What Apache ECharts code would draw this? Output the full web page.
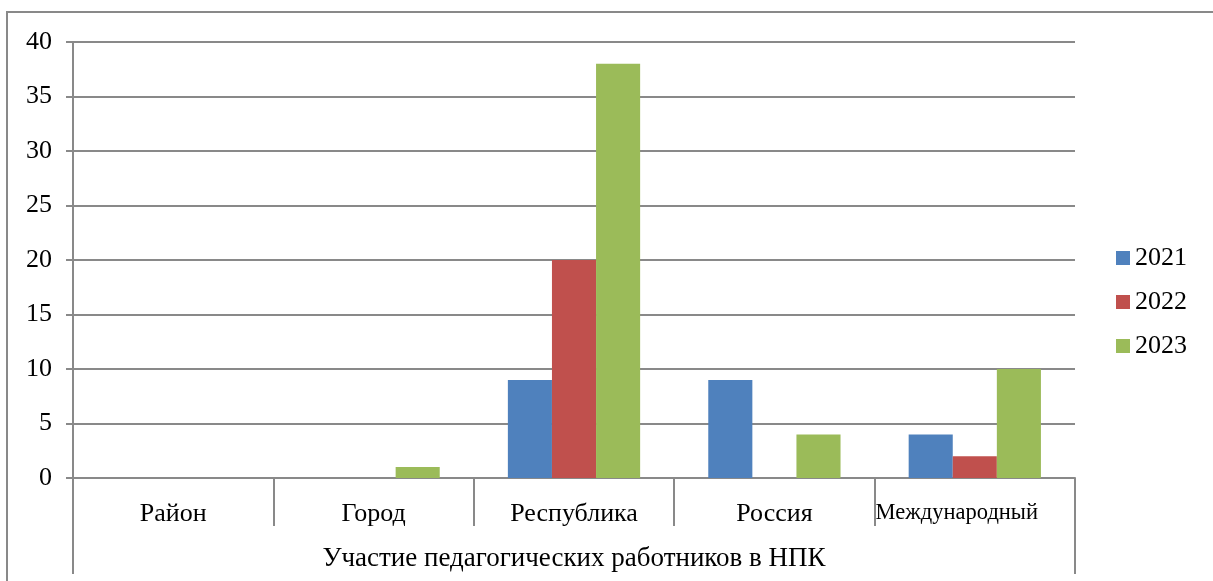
<!DOCTYPE html>
<html>
<head>
<meta charset="utf-8">
<script src="https://cdn.jsdelivr.net/npm/echarts@6/dist/echarts.min.js"></script>
<style>
    html, body { margin: 0; padding: 0; background: #fff; }
    #echartDiv { width: 1213px; height: 581px; }
</style>
</head>
<body>
<div id="echartDiv"></div>
<script>
// данные диаграммы
const categories = ['Район', 'Город', 'Республика', 'Россия', 'Международный'];
const groupLabel = ['Участие педагогических работников в НПК'];
const years = ['2021', '2022', '2023'];
const values2021 = [0, 0, 9, 9, 4];
const values2022 = [0, 0, 20, 0, 2];
const values2023 = [0, 1, 38, 4, 10];
const colors = ['#4F81BD', '#C0504D', '#9BBB59'];

const font = 'Liberation Serif';
const lineColor = '#898989';

const myChart = echarts.init(document.getElementById('echartDiv'));

// последняя подпись в оригинале сжата, чтобы поместиться
const categoryData = categories.map((name, i) => i === categories.length - 1
    ? { value: name, textStyle: { fontSize: 22.5, padding: [1, 36, 0, 0] } }
    : name);

let option = {
    animation: false,
    textStyle: { fontFamily: font },
    graphic: [{
        type: 'rect',
        shape: { x: 7, y: 12, width: 1400, height: 800 },
        style: { fill: 'none', stroke: lineColor, lineWidth: 2 }
    }],
    legend: {
        orient: 'vertical',
        left: 1111,
        top: 240,
        padding: 5,
        itemWidth: 14,
        itemHeight: 14,
        itemGap: 18,
        icon: 'rect',
        data: years,
        textStyle: { fontFamily: font, fontSize: 26, color: '#000' }
    },
    grid: {
        left: 73,
        right: 138,
        top: 42,
        bottom: 103
    },
    xAxis: [
        {
            type: 'category',
            data: categoryData,
            position: 'bottom',
            axisLine: { show: true, lineStyle: { color: lineColor, width: 2 } },
            axisTick: { show: true, interval: 0, length: 48, lineStyle: { color: lineColor, width: 2 } },
            axisLabel: { interval: 0, margin: 23, fontFamily: font, fontSize: 26, color: '#000' }
        },
        {
            type: 'category',
            data: groupLabel,
            position: 'bottom',
            axisLine: { show: false },
            axisTick: { show: true, interval: 0, length: 96, lineStyle: { color: lineColor, width: 2 } },
            axisLabel: { interval: 0, margin: 67, fontFamily: font, fontSize: 27, color: '#000' }
        }
    ],
    yAxis: {
        type: 'value',
        min: 0,
        max: 40,
        interval: 5,
        axisLine: { show: true, lineStyle: { color: lineColor, width: 2 } },
        axisTick: { show: true, length: 7, lineStyle: { color: lineColor, width: 2 } },
        axisLabel: { margin: 21, fontFamily: font, fontSize: 26, color: '#000' },
        splitLine: { show: true, lineStyle: { color: lineColor, width: 2 } }
    },
    series: [
        { name: years[0], type: 'bar', data: values2021, itemStyle: { color: colors[0] }, barGap: '0%', barCategoryGap: '34%' },
        { name: years[1], type: 'bar', data: values2022, itemStyle: { color: colors[1] }, barGap: '0%', barCategoryGap: '34%' },
        { name: years[2], type: 'bar', data: values2023, itemStyle: { color: colors[2] }, barGap: '0%', barCategoryGap: '34%' }
    ]
};

myChart.setOption(option);
</script>
</body>
</html>
